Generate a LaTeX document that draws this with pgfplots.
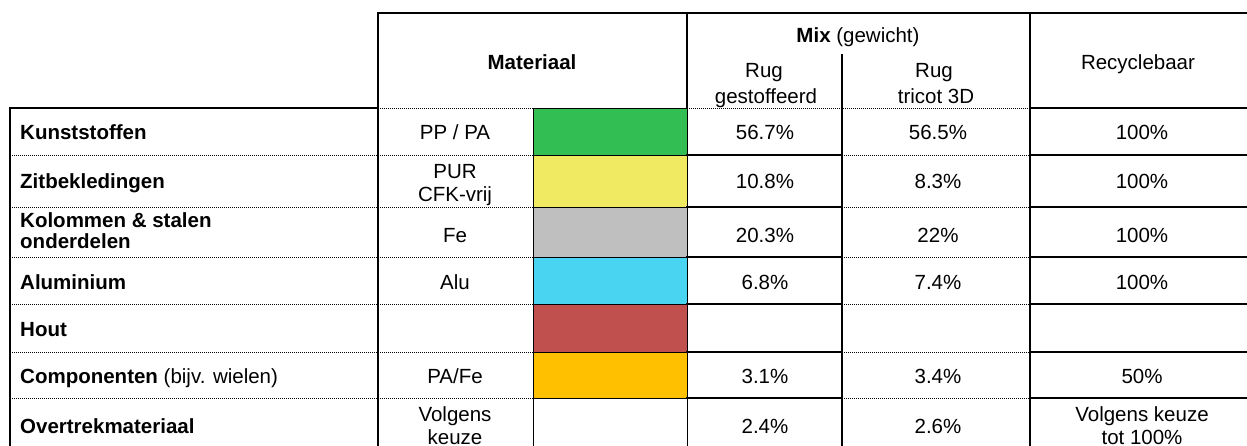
\documentclass[border=0pt]{standalone}
\usepackage{fontspec}
\setmainfont{Liberation Sans}
\usepackage{pgfplots}
\pgfplotsset{compat=1.18}
\definecolor{cGreen}{RGB}{51,190,83}
\definecolor{cYellow}{RGB}{240,234,98}
\definecolor{cGray}{RGB}{191,191,191}
\definecolor{cCyan}{RGB}{73,212,241}
\definecolor{cRed}{RGB}{192,80,77}
\definecolor{cOrange}{RGB}{255,192,0}
\tikzset{
  thk/.style={line width=1.6pt,line cap=rect},
  dtl/.style={line width=1pt,dash pattern=on 1pt off 1pt},
  thn/.style={line width=0.8pt},
  T/.style={anchor=base,inner sep=0pt,font=\fontsize{20.5}{22}\selectfont},
  L/.style={anchor=base west,inner sep=0pt,font=\fontsize{20.5}{22}\selectfont\bfseries},
}
\begin{document}
\begin{tikzpicture}
\useasboundingbox (0,0) rectangle (1247pt,445pt);
\begin{axis}[width=1247pt,height=445pt,scale only axis,
  xmin=0,xmax=1247,ymin=0,ymax=445,y dir=reverse,hide axis,clip=false]
% colour swatches (Materiaal column)
\addplot[fill=cGreen,draw=black,thn]  coordinates {(533,108) (687,108) (687,155) (533,155)} -- cycle;
\addplot[fill=cYellow,draw=black,thn] coordinates {(533,155) (687,155) (687,207) (533,207)} -- cycle;
\addplot[fill=cGray,draw=black,thn]   coordinates {(533,207) (687,207) (687,257) (533,257)} -- cycle;
\addplot[fill=cCyan,draw=black,thn]   coordinates {(533,257) (687,257) (687,304) (533,304)} -- cycle;
\addplot[fill=cRed,draw=black,thn]    coordinates {(533,304) (687,304) (687,352) (533,352)} -- cycle;
\addplot[fill=cOrange,draw=black,thn] coordinates {(533,352) (687,352) (687,398) (533,398)} -- cycle;
% horizontal rules
\draw[thk] (axis cs:378,13) -- (axis cs:1246,13);
\draw[thk] (axis cs:10,108) -- (axis cs:378,108);
\draw[dtl] (axis cs:378,108) -- (axis cs:533,108);
\draw[dtl] (axis cs:687,108) -- (axis cs:1030,108);
\draw[thk] (axis cs:1030,108) -- (axis cs:1246,108);
\pgfplotsinvokeforeach{155,207,257,304,352,398}{
  \draw[dtl] (axis cs:10,#1) -- (axis cs:533,#1);
  \draw[thk] (axis cs:687,#1) -- (axis cs:842,#1);
  \draw[dtl] (axis cs:842,#1) -- (axis cs:1030,#1);
  \draw[thk] (axis cs:1030,#1) -- (axis cs:1246,#1);
}
% vertical rules
\draw[thk] (axis cs:10,108) -- (axis cs:10,470);
\draw[thk] (axis cs:378,13) -- (axis cs:378,470);
\draw[thn] (axis cs:533,398) -- (axis cs:533,470);
\draw[thk] (axis cs:687,13) -- (axis cs:687,108);
\draw[thn] (axis cs:687,398) -- (axis cs:687,470);
\draw[thk] (axis cs:842,55) -- (axis cs:842,470);
\draw[thk] (axis cs:1030,13) -- (axis cs:1030,470);
% header
\node[T] at (axis cs:532,69) {\bfseries Materiaal};
\node[T] at (axis cs:858,42) {\bfseries Mix\mdseries{} (gewicht)};
\node[T] at (axis cs:764,77) {Rug};
\node[T] at (axis cs:766,103) {gestoffeerd};
\node[T] at (axis cs:934,77) {Rug};
\node[T] at (axis cs:936,103) {tricot 3D};
\node[T] at (axis cs:1138,69) {Recyclebaar};
% row labels
\node[L] at (axis cs:20,139) {Kunststoffen};
\node[L] at (axis cs:20,188) {Zitbekledingen};
\node[L] at (axis cs:20,227) {Kolommen \& stalen};
\node[L] at (axis cs:20,248) {onderdelen};
\node[L] at (axis cs:20,289) {Aluminium};
\node[L] at (axis cs:20,336) {Hout};
\node[L] at (axis cs:20,383) {Componenten\mdseries{} (bijv. wielen)};
\node[L] at (axis cs:20,433) {Overtrekmateriaal};
% materiaal
\node[T] at (axis cs:455,139) {PP / PA};
\node[T] at (axis cs:455,178) {PUR};
\node[T] at (axis cs:455,201) {CFK-vrij};
\node[T] at (axis cs:455,242) {Fe};
\node[T] at (axis cs:455,289) {Alu};
\node[T] at (axis cs:455,383) {PA/Fe};
\node[T] at (axis cs:455,421) {Volgens};
\node[T] at (axis cs:455,444) {keuze};
% Mix: rug gestoffeerd
\node[T] at (axis cs:765,139) {56.7\%};
\node[T] at (axis cs:765,188) {10.8\%};
\node[T] at (axis cs:765,242) {20.3\%};
\node[T] at (axis cs:765,289) {6.8\%};
\node[T] at (axis cs:765,383) {3.1\%};
\node[T] at (axis cs:765,433) {2.4\%};
% Mix: rug tricot 3D
\node[T] at (axis cs:938,139) {56.5\%};
\node[T] at (axis cs:938,188) {8.3\%};
\node[T] at (axis cs:938,242) {22\%};
\node[T] at (axis cs:938,289) {7.4\%};
\node[T] at (axis cs:938,383) {3.4\%};
\node[T] at (axis cs:938,433) {2.6\%};
% Recyclebaar
\node[T] at (axis cs:1142,139) {100\%};
\node[T] at (axis cs:1142,188) {100\%};
\node[T] at (axis cs:1142,242) {100\%};
\node[T] at (axis cs:1142,289) {100\%};
\node[T] at (axis cs:1142,383) {50\%};
\node[T] at (axis cs:1142,421) {Volgens keuze};
\node[T] at (axis cs:1142,444) {tot 100\%};
\end{axis}
\end{tikzpicture}
\end{document}
